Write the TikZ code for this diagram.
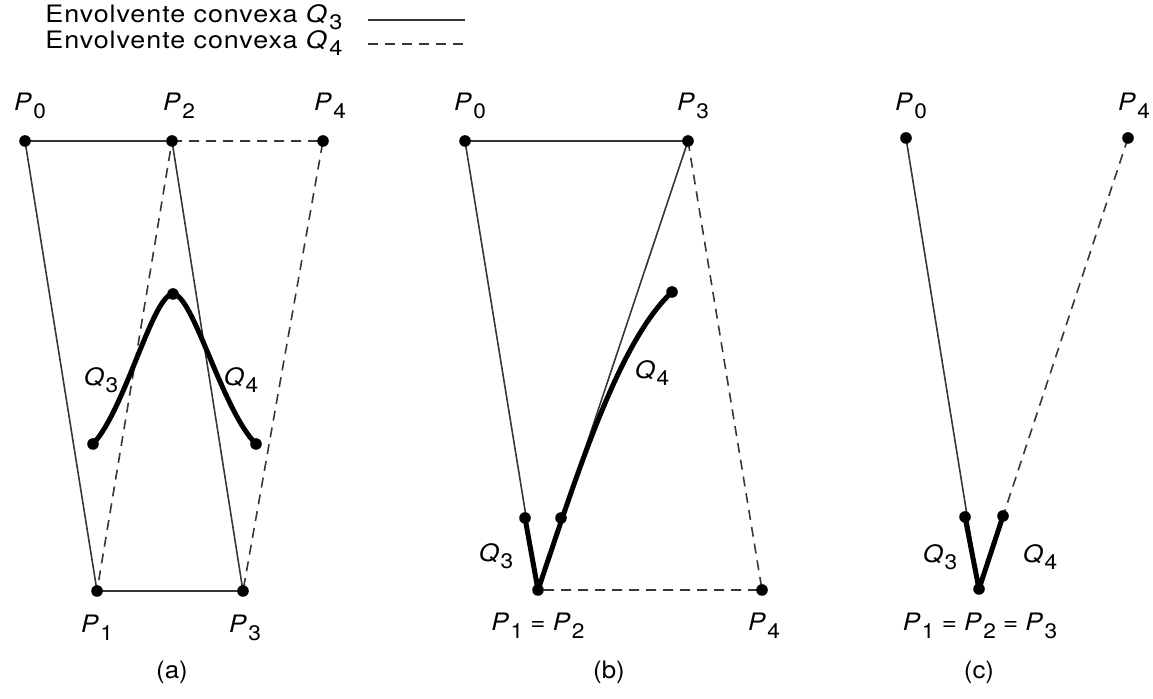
\documentclass[tikz,border=0pt]{standalone}
\usepackage{fontspec}
\setmainfont{TeX Gyre Heros}
\newfontfamily\legendfont[FakeStretch=1.12,LetterSpace=4]{TeX Gyre Heros}
\newfontfamily\labelfont[FakeStretch=1.08]{TeX Gyre Heros}
\usetikzlibrary{positioning}
\definecolor{HullGray}{RGB}{55,55,55}
\newcommand{\lbl}[2]{\textit{#1}\kern0.06em\raisebox{-0.6ex}{\fontsize{10.5}{12}\selectfont #2}}

\begin{document}
\begin{tikzpicture}[x=0.5pt,y=-0.5pt,
    hull/.style={line width=0.8pt,HullGray},
    hulldash/.style={hull,dash pattern=on 5pt off 3.5pt},
    curve/.style={line width=2.5pt,line cap=round,line join=round},
    lab/.style={font=\labelfont\fontsize{12}{14}\selectfont,inner sep=0pt},
    legend/.style={font=\legendfont\fontsize{12}{14}\selectfont,inner sep=0pt,anchor=west}]
  \useasboundingbox (0,0) rectangle (1153,699);
  % legenda
  \node[legend] (legA) at (45,17) {Envolvente convexa \lbl{Q}{3}};
  \node[legend] (legB) at (45,43) {Envolvente convexa \lbl{Q}{4}};
  \coordinate (legAs) at (368,20); \coordinate (legAe) at (465,20);
  \coordinate (legBs) at (368,44); \coordinate (legBe) at (465,44);
  \draw[hull] (legAs)--(legAe);
  \draw[hulldash] (legBs)--(legBe);

  % (a)
  \coordinate (aP0) at (25,141);
  \coordinate (aP2) at (172,141);
  \coordinate (aP4) at (323,141);
  \coordinate (aP1) at (97,591);
  \coordinate (aP3) at (243,591);
  \coordinate (aQs) at (93,444);
  \coordinate (aQm) at (173,294);
  \coordinate (aQe) at (256,444);
  \draw[hull] (aP0)--(aP2)--(aP3)--(aP1)--cycle;
  \draw[hulldash] (aP2)--(aP4)--(aP3)--(aP1)--(aP2);
  \draw[curve] (aQs) .. controls (125,410) and (153,294) .. (aQm)
    .. controls (193,294) and (222,410) .. (aQe);
  \foreach \p in {aP0,aP1,aP2,aP3,aP4,aQs,aQm,aQe}
    \fill (\p) circle (2.9pt);
  \node[lab] (aL0) at (30,106) {\lbl{P}{0}};
  \node[lab] (aL2) at (179,106) {\lbl{P}{2}};
  \node[lab] (aL4) at (330,106) {\lbl{P}{4}};
  \node[lab] (aL1) at (97,628) {\lbl{P}{1}};
  \node[lab] (aL3) at (245,628) {\lbl{P}{3}};
  \node[lab] (aLQ3) at (101,380) {\lbl{Q}{3}};
  \node[lab] (aLQ4) at (241,380) {\lbl{Q}{4}};
  \node[lab] (capA) at (172,672) {(a)};

  % (b)
  \coordinate (bP0) at (465,141);
  \coordinate (bP3) at (688,141);
  \coordinate (bP1) at (538,590);
  \coordinate (bP4) at (762,590);
  \coordinate (bQa) at (525,518);
  \coordinate (bQb) at (561,518);
  \coordinate (bQe) at (672,292);
  \draw[hull] (bP0)--(bP3)--(bP1)--cycle;
  \draw[hulldash] (bP3)--(bP4)--(bP1);
  \draw[curve] (bQa)--(bP1) .. controls (576,478) and (618,342) .. (bQe);
  \foreach \p in {bP0,bP1,bP3,bP4,bQa,bQb,bQe}
    \fill (\p) circle (2.9pt);
  \node[lab] (bL0) at (470,106) {\lbl{P}{0}};
  \node[lab] (bL3) at (693,106) {\lbl{P}{3}};
  \node[lab] (bL12) at (538,626) {\lbl{P}{1} = \lbl{P}{2}};
  \node[lab] (bL4) at (764,626) {\lbl{P}{4}};
  \node[lab] (bLQ3) at (496,556) {\lbl{Q}{3}};
  \node[lab] (bLQ4) at (652,373) {\lbl{Q}{4}};
  \node[lab] (capB) at (609,672) {(b)};

  % (c)
  \coordinate (cP0) at (906,138);
  \coordinate (cP4) at (1128,138);
  \coordinate (cP1) at (979,589);
  \coordinate (cQa) at (965,517);
  \coordinate (cQb) at (1003,516);
  \draw[hull] (cP0)--(cP1);
  \draw[hulldash] (cP4)--(cP1);
  \draw[curve] (cQa)--(cP1)--(cQb);
  \foreach \p in {cP0,cP4,cP1,cQa,cQb}
    \fill (\p) circle (2.9pt);
  \node[lab] (cL0) at (911,106) {\lbl{P}{0}};
  \node[lab] (cL4) at (1134,106) {\lbl{P}{4}};
  \node[lab] (cL123) at (980,626) {\lbl{P}{1} = \lbl{P}{2} = \lbl{P}{3}};
  \node[lab] (cLQ3) at (940,557) {\lbl{Q}{3}};
  \node[lab] (cLQ4) at (1040,557) {\lbl{Q}{4}};
  \node[lab] (capC) at (979,672) {(c)};
\end{tikzpicture}
\end{document}
